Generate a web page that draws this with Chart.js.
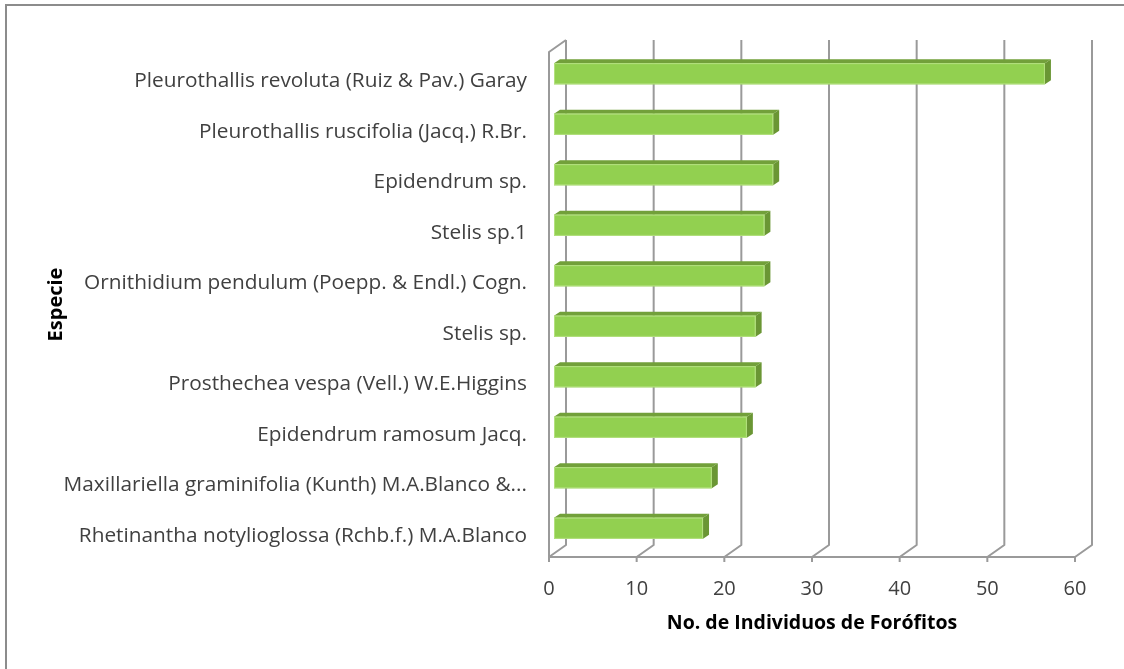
<!DOCTYPE html>
<html>
<head>
<meta charset="utf-8">
<script src="https://cdn.jsdelivr.net/npm/chart.js@4.4.1/dist/chart.umd.min.js"></script>
<style>
  html, body { margin: 0; padding: 0; background: #fff; }
  #wrap { width: 1124px; height: 669px; }
</style>
</head>
<body>
<div id="wrap"><canvas id="barChart" width="1124" height="669"></canvas></div>
<script>
// datos
var especies = [
  "Pleurothallis revoluta (Ruiz & Pav.) Garay",
  "Pleurothallis ruscifolia (Jacq.) R.Br.",
  "Epidendrum sp.",
  "Stelis sp.1",
  "Ornithidium pendulum (Poepp. & Endl.) Cogn.",
  "Stelis sp.",
  "Prosthechea vespa (Vell.) W.E.Higgins",
  "Epidendrum ramosum Jacq.",
  "Maxillariella graminifolia (Kunth) M.A.Blanco &...",
  "Rhetinantha notylioglossa (Rchb.f.) M.A.Blanco"
];
var individuos = [56, 25, 25, 24, 24, 23, 23, 22, 18, 17];
var ticksX = [0, 10, 20, 30, 40, 50, 60];

var FONT = "'Open Sans', 'Noto Sans', sans-serif";
var GRID = "#9a9a9a";
// profundidad del efecto 3D
var WALL_DX = 17, WALL_DY = -12;
var BAR_DX = 5, BAR_DY = -3.5, BAR_DEPTH_X = 6, BAR_DEPTH_Y = -4;

var pared3d = {
  id: 'pared3d',
  beforeDraw: function(chart) {
    var ctx = chart.ctx;
    ctx.save();
    ctx.strokeStyle = "#8c8c8c";
    ctx.lineWidth = 2;
    ctx.strokeRect(6, 5, 1300, 900);
    ctx.restore();
  },
  beforeDatasetsDraw: function(chart) {
    var ctx = chart.ctx;
    var a = chart.chartArea;
    var xs = chart.scales.x;
    ctx.save();
    ctx.strokeStyle = GRID;
    ctx.lineWidth = 2;
    ctx.lineJoin = 'round';
    // pared izquierda
    ctx.beginPath();
    ctx.moveTo(a.left, a.bottom);
    ctx.lineTo(a.left, a.top);
    ctx.lineTo(a.left + WALL_DX, a.top + WALL_DY);
    ctx.stroke();
    // eje frontal
    ctx.beginPath();
    ctx.moveTo(a.left, a.bottom);
    ctx.lineTo(xs.getPixelForValue(ticksX[ticksX.length - 1]), a.bottom);
    ctx.stroke();
    ticksX.forEach(function(v) {
      var x = xs.getPixelForValue(v);
      ctx.beginPath();
      ctx.moveTo(x, a.bottom + 5);
      ctx.lineTo(x, a.bottom);
      ctx.lineTo(x + WALL_DX, a.bottom + WALL_DY);
      ctx.lineTo(x + WALL_DX, a.top + WALL_DY);
      ctx.stroke();
    });
    ctx.restore();
  },
  afterDatasetsDraw: function(chart) {
    var ctx = chart.ctx;
    var meta = chart.getDatasetMeta(0);
    ctx.save();
    meta.data.forEach(function(bar) {
      var p = bar.getProps(['x', 'y', 'base', 'height'], true);
      var l = p.base + BAR_DX, r = p.x + BAR_DX;
      var t = p.y - p.height / 2 + BAR_DY, b = p.y + p.height / 2 + BAR_DY;
      // cara superior
      ctx.fillStyle = "#72a03a";
      ctx.beginPath();
      ctx.moveTo(l, t);
      ctx.lineTo(l + BAR_DEPTH_X, t + BAR_DEPTH_Y);
      ctx.lineTo(r + BAR_DEPTH_X, t + BAR_DEPTH_Y);
      ctx.lineTo(r, t);
      ctx.closePath();
      ctx.fill();
      // cara lateral
      ctx.fillStyle = "#6a9634";
      ctx.beginPath();
      ctx.moveTo(r, t);
      ctx.lineTo(r + BAR_DEPTH_X, t + BAR_DEPTH_Y);
      ctx.lineTo(r + BAR_DEPTH_X, b + BAR_DEPTH_Y);
      ctx.lineTo(r, b);
      ctx.closePath();
      ctx.fill();
      // cara frontal
      ctx.fillStyle = "#92d050";
      ctx.fillRect(l, t, r - l, b - t);
      ctx.strokeStyle = "#b4e07f";
      ctx.lineWidth = 1;
      ctx.strokeRect(l + 0.5, t + 0.5, r - l - 1, b - t - 1);
    });
    ctx.restore();
  }
};

var ctx = document.getElementById("barChart").getContext("2d");
var chart = new Chart(ctx, {
  type: 'bar',
  data: {
    labels: especies,
    datasets: [{
      label: "No. de Individuos de Forófitos",
      data: individuos,
      backgroundColor: "rgba(0,0,0,0)",
      borderWidth: 0,
      barPercentage: 0.42,
      categoryPercentage: 1
    }]
  },
  options: {
    indexAxis: 'y',
    responsive: false,
    animation: false,
    events: [],
    layout: { padding: { left: 40, top: 52, right: 49, bottom: 30 } },
    plugins: {
      legend: { display: false },
      tooltip: { enabled: false }
    },
    scales: {
      x: {
        min: 0,
        max: 60,
        afterFit: function(scale) { scale.height = 82; },
        afterBuildTicks: function(scale) {
          scale.ticks = ticksX.map(function(v) { return { value: v }; });
        },
        grid: { display: false, drawTicks: false },
        border: { display: false },
        ticks: {
          padding: 20,
          color: "#404040",
          font: { family: FONT, size: 20 }
        },
        title: {
          display: true,
          text: "No. de Individuos de Forófitos",
          color: "#000",
          font: { family: FONT, size: 19.5, weight: 'bold' }
        }
      },
      y: {
        afterFit: function(scale) { scale.width = 509; },
        grid: { display: false, drawTicks: false },
        border: { display: false },
        ticks: {
          padding: 22,
          labelOffset: 4,
          color: "#404040",
          font: { family: FONT, size: 20.8 }
        },
        title: {
          display: true,
          text: "Especie",
          color: "#000",
          font: { family: FONT, size: 20, weight: 'bold' }
        }
      }
    }
  },
  plugins: [pared3d]
});
</script>
</body>
</html>
